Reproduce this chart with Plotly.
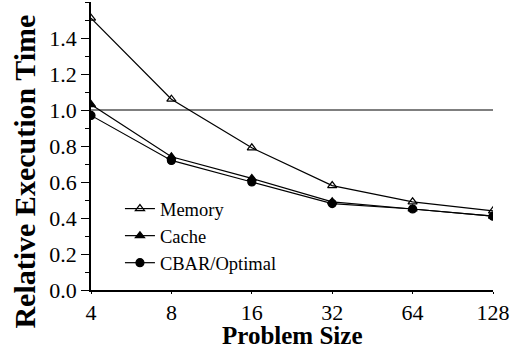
import math
import plotly.graph_objects as go

problem_sizes = [4, 8, 16, 32, 64, 128]
memory = [1.51, 1.06, 0.79, 0.58, 0.49, 0.44]
cache = [1.03, 0.74, 0.62, 0.49, 0.45, 0.41]
cbar_optimal = [0.97, 0.72, 0.60, 0.48, 0.45, 0.41]
baseline = 1.0

x_tick_labels = ["4", "8", "16", "32", "64", "128"]
x_minor_ticks = [5, 6, 7, 9, 10, 20, 40, 50, 60, 70, 80, 90, 100]
y_tick_values = [0.0, 0.2, 0.4, 0.6, 0.8, 1.0, 1.2, 1.4]
y_tick_labels = ["0.0", "0.2", "0.4", "0.6", "0.8", "1.0", "1.2", "1.4"]

FONT = "Liberation Serif"
x_range = [math.log10(problem_sizes[0]), math.log10(problem_sizes[-1])]

fig = go.Figure()
series = [
    ("Memory", memory, "triangle-up-open"),
    ("Cache", cache, "triangle-up"),
    ("CBAR/Optimal", cbar_optimal, "circle"),
]
for name, vals, sym in series:
    fig.add_trace(go.Scatter(
        x=problem_sizes, y=vals, name=name, mode="lines+markers",
        line=dict(color="black", width=1.2),
        marker=dict(symbol=sym, size=8, color="black",
                    line=dict(color="black", width=1.2)),
    ))

fig.add_shape(type="line", xref="paper", x0=0, x1=1, yref="y",
              y0=baseline, y1=baseline, line=dict(color="#555555", width=1.6),
              layer="below")

fig.update_layout(
    width=514, height=348,
    margin=dict(l=91, r=21, t=2, b=58),
    paper_bgcolor="white", plot_bgcolor="white",
    font=dict(family=FONT, color="black", size=22),
    showlegend=True,
    legend=dict(x=0.072, y=0.347, xanchor="left", yanchor="top",
                font=dict(family=FONT, size=18.5, color="black"),
                bgcolor="rgba(0,0,0,0)", itemwidth=30, tracegroupgap=0),
    xaxis=dict(
        type="log", range=x_range,
        tickmode="array", tickvals=problem_sizes, ticktext=x_tick_labels,
        ticks="outside", ticklen=2, tickwidth=1.3, tickcolor="black",
        showline=True, linecolor="black", linewidth=1.5,
        showgrid=False, zeroline=False,
        tickfont=dict(family=FONT, size=22),
    ),
    xaxis2=dict(
        type="log", range=x_range, overlaying="x", anchor="y", side="bottom",
        tickmode="array", tickvals=problem_sizes, showticklabels=False,
        ticks="outside", ticklen=7, tickwidth=1.3, tickcolor="black",
        showline=False, showgrid=False, zeroline=False,
        minor=dict(tickmode="array", tickvals=x_minor_ticks, ticks="outside",
                   ticklen=4, tickwidth=1.2, tickcolor="black", showgrid=False),
    ),
    yaxis=dict(
        range=[0, 1.6],
        tickmode="array", tickvals=y_tick_values, ticktext=y_tick_labels,
        ticks="outside", ticklen=8, tickwidth=1.3, tickcolor="black",
        showline=True, linecolor="black", linewidth=1.5,
        showgrid=False, zeroline=False,
        tickfont=dict(family=FONT, size=22),
        minor=dict(dtick=0.1, ticks="outside", ticklen=4, tickwidth=1.2,
                   tickcolor="black", showgrid=False),
    ),
    annotations=[
        dict(text="<b>Problem Size</b>", xref="paper", yref="paper",
             x=0.5, y=-0.158, xanchor="center", yanchor="middle", showarrow=False,
             font=dict(family=FONT, size=25, color="black")),
        dict(text="<b>Relative Execution Time</b>", xref="paper", yref="paper",
             x=-0.165, y=0.41, xanchor="center", yanchor="middle", showarrow=False,
             textangle=-90,
             font=dict(family=FONT, size=30, color="black")),
    ],
)

fig.write_html("out.html")
